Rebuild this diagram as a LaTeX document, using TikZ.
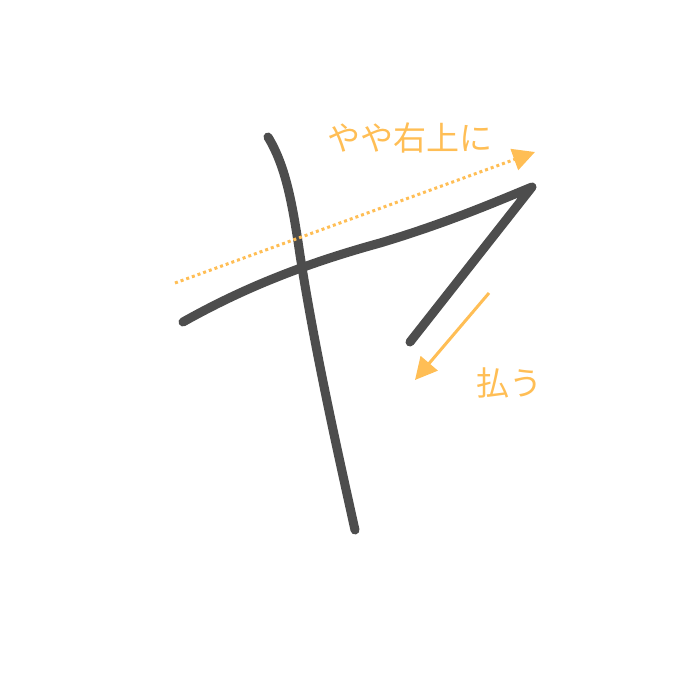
\documentclass[tikz,border=0pt]{standalone}
\usepackage{fontspec}
\newfontfamily\cjk{Noto Sans CJK JP}
\usetikzlibrary{arrows.meta}
\definecolor{ink}{HTML}{4D4D4D}
\definecolor{guide}{HTML}{FFBE55}
\tikzset{
  brush/.style={draw=ink, line width=0.9mm, line cap=round, line join=round},
  guideline/.style={draw=guide, line width=0.3mm},
  guidetip/.style={-{Triangle[length=2.2mm,width=2.2mm]}},
  lbl/.style={text=guide, font=\cjk\fontsize{9.4}{11}\selectfont, inner sep=0pt}
}
\begin{document}
\begin{tikzpicture}[x=0.1mm,y=-0.1mm]
\useasboundingbox (0,0) rectangle (700,700);
% vertical stroke
\draw[brush] (268,137) .. controls (285,165) and (292,200) .. (300,255)
  .. controls (315,350) and (335,440) .. (355,530);
% horizontal stroke with hook
\draw[brush] (183,322) .. controls (240,290) and (300,265) .. (380,243)
  .. controls (450,222) and (500,200) .. (532,187) -- (410,342);
% guides
\coordinate (g1s) at (175,283);
\coordinate (g1e) at (535,152);
\draw[guideline, dash pattern=on 0.3mm off 0.3mm, guidetip] (g1s) -- (g1e);
\coordinate (g2s) at (489,293);
\coordinate (g2e) at (415,380);
\draw[guideline, guidetip] (g2s) -- (g2e);
\node[lbl] (t1) at (410,138) {やや右上に};
\node[lbl] (t2) at (510,383) {払う};
\end{tikzpicture}
\end{document}
